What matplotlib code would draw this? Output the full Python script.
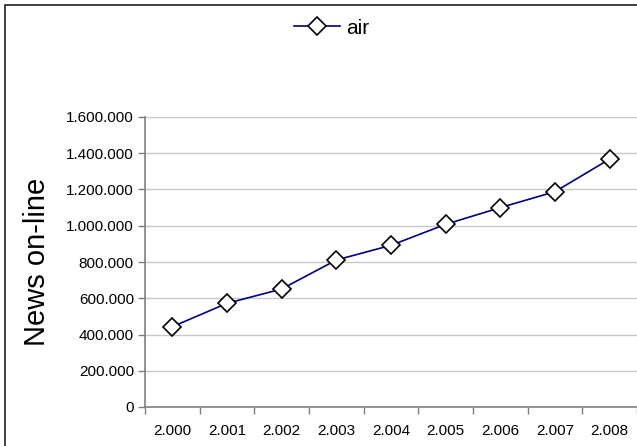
import matplotlib.pyplot as plt
from matplotlib.patches import Rectangle
from matplotlib.ticker import FuncFormatter, FixedLocator

plt.rcParams['font.family'] = ['Liberation Sans', 'DejaVu Sans']

# data
years = ['2.000', '2.001', '2.002', '2.003', '2.004', '2.005', '2.006', '2.007', '2.008']
news_online = [443000, 572000, 651000, 811000, 892000, 1008000, 1100000, 1188000, 1368000]
series_name = 'air'

fig = plt.figure(figsize=(6.37, 4.46), dpi=100)
ax = fig.add_axes([145 / 637, 1 - 407 / 446, 1 - 145 / 637, (407 - 117) / 446])

# outer chart frame (cropped at right and bottom like the original)
fig.patches.append(Rectangle((5 / 637, -0.1), 1.2, 1 - 5 / 446 + 0.1,
                             transform=fig.transFigure, fill=False,
                             edgecolor='#202020', linewidth=1.2))

x = list(range(len(years)))
ax.plot(x, news_online, color='#000080', linewidth=1.2, marker='D',
        markersize=9, markerfacecolor='white', markeredgecolor='black',
        markeredgewidth=1.2, label=series_name)

ax.set_xlim(-0.5, len(years) - 0.5)
ax.set_ylim(0, 1600000)
ax.set_yticks(range(0, 1600001, 200000))
ax.yaxis.set_major_formatter(FuncFormatter(lambda v, p: f'{int(v):,}'.replace(',', '.')))

# category axis: ticks on boundaries, labels at centres
ax.xaxis.set_major_locator(FixedLocator([i - 0.5 for i in range(len(years) + 1)]))
ax.xaxis.set_minor_locator(FixedLocator(x))
ax.set_xticklabels([])
ax.set_xticklabels(years, minor=True)
ax.tick_params(axis='x', which='major', length=5, width=1, color='#808080', direction='out')
ax.tick_params(axis='x', which='minor', length=0, pad=12, labelsize=11)
ax.tick_params(axis='y', length=5, width=1, color='#808080', pad=3, labelsize=11)

ax.grid(axis='y', color='#c8c8c8', linewidth=1)
ax.set_axisbelow(True)
for s in ['top', 'right']:
    ax.spines[s].set_visible(False)
for s in ['left', 'bottom']:
    ax.spines[s].set_color('#808080')
    ax.spines[s].set_linewidth(1.2)

ax.set_ylabel('News on-line', fontsize=21, labelpad=11)

fig.legend(loc='center', bbox_to_anchor=(332 / 637, 1 - 28 / 446), frameon=False,
           fontsize=15, handlelength=2.2, handletextpad=0.3)

fig.savefig('out.png', dpi=100)
